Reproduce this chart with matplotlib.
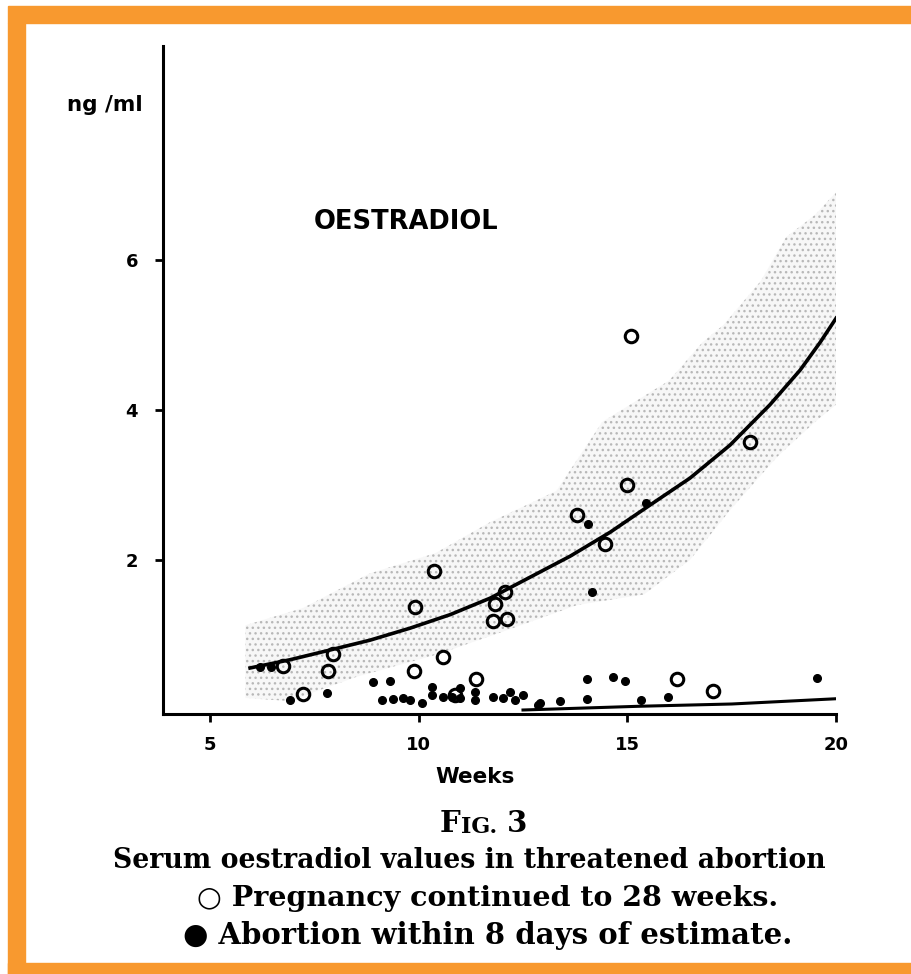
import numpy as np
import matplotlib
matplotlib.use('Agg')
import matplotlib.pyplot as plt
from matplotlib.patches import Rectangle

W, H = 911, 974

# open circles: pregnancy continued to 28 weeks
open_weeks = [6.75, 7.95, 7.83, 7.23, 9.89, 9.91, 10.37, 10.58, 11.37, 10.87,
              11.83, 12.07, 11.78, 12.12, 15.09, 17.94, 14.99, 13.79, 14.47,
              16.19, 17.05]
open_vals  = [0.59, 0.75, 0.52, 0.21, 0.52, 1.37, 1.85, 0.71, 0.41, 0.20,
              1.41, 1.57, 1.19, 1.21, 4.99, 3.57, 3.00, 2.60, 2.21,
              0.41, 0.25]

# filled dots: abortion within 8 days
filled_weeks = [6.20, 6.45, 6.92, 7.80, 14.06, 14.15, 15.45, 19.55,
                8.91, 9.31, 9.12, 9.39, 9.63, 9.79, 10.08, 10.32, 10.32,
                10.58, 10.80, 10.99, 10.99, 11.35, 11.35, 11.78, 12.02,
                12.19, 12.31, 12.50, 12.91, 14.03, 14.66, 14.94, 14.03,
                15.33, 15.98, 13.39, 12.86]
filled_vals  = [0.57, 0.57, 0.13, 0.23, 2.48, 1.57, 2.76, 0.43,
                0.37, 0.39, 0.13, 0.15, 0.16, 0.13, 0.09, 0.31, 0.20,
                0.17, 0.17, 0.16, 0.29, 0.24, 0.13, 0.17, 0.16,
                0.24, 0.13, 0.20, 0.09, 0.41, 0.44, 0.39, 0.15,
                0.13, 0.17, 0.12, 0.07]

# mean curve
curve_weeks = [5.96, 6.92, 7.88, 8.83, 9.79, 10.75, 11.71, 12.67, 13.63,
               14.59, 15.54, 16.50, 17.46, 18.42, 19.14, 19.62, 20.0]
curve_vals  = [0.56, 0.67, 0.80, 0.93, 1.09, 1.27, 1.49, 1.77, 2.05,
               2.37, 2.73, 3.09, 3.53, 4.07, 4.53, 4.90, 5.22]

# lower limit line
low_weeks = [12.5, 15.3, 17.5, 20.0]
low_vals  = [0.0, 0.05, 0.08, 0.15]

# normal range (stippled band)
band_up_weeks = [5.85, 7.23, 8.83, 10.4, 11.7, 13.3, 14.4, 16.0, 16.8, 17.3, 18.2, 18.8, 19.5, 20.0]
band_up_vals  = [1.13, 1.36, 1.82, 2.09, 2.50, 2.92, 3.84, 4.39, 4.90, 5.13, 5.72, 6.30, 6.60, 6.90]
band_lo_weeks = [5.85, 6.9, 8.5, 10.5, 12.2, 13.8, 15.4, 16.5, 17.5, 18.6, 19.5, 20.0]
band_lo_vals  = [0.16, 0.12, 0.44, 0.75, 1.08, 1.40, 1.54, 2.00, 2.69, 3.38, 3.84, 4.07]

x_ticks = [5, 10, 15, 20]
y_ticks = [2, 4, 6]


def px(x, y):
    return x / W, 1 - y / H


fig = plt.figure(figsize=(W / 100, H / 100), dpi=100)
fig.patch.set_facecolor('white')

orange = '#F8992F'
fig.patches.append(Rectangle(px(8, 23), 903 / W, 17 / H, transform=fig.transFigure, color=orange, zorder=0))
fig.patches.append(Rectangle(px(8, 974), 17 / W, 951 / H, transform=fig.transFigure, color=orange, zorder=0))
fig.patches.append(Rectangle(px(8, 974), 903 / W, 11 / H, transform=fig.transFigure, color=orange, zorder=0))

ax = fig.add_axes([163 / W, 1 - 713.75 / H, (836 - 163) / W, (713.75 - 46) / H])
ax.set_xlim(3.874, 20)
ax.set_ylim(-0.05, 8.85)

band_x = np.concatenate([band_up_weeks, band_lo_weeks[::-1]])
band_y = np.concatenate([band_up_vals, band_lo_vals[::-1]])
ax.fill(band_x, band_y, facecolor='#f7f7f7', edgecolor='#b8b8b8', hatch='...', linewidth=0, zorder=1)

ax.plot(curve_weeks, curve_vals, color='black', linewidth=2.6, zorder=3)
ax.plot(low_weeks, low_vals, color='black', linewidth=2.2, zorder=3)
ax.plot(open_weeks, open_vals, 'o', mfc='none', mec='black', ms=9, mew=2.2, zorder=4)
ax.plot(filled_weeks, filled_vals, 'o', color='black', ms=5.5, zorder=4)

for s in ['top', 'right']:
    ax.spines[s].set_visible(False)
for s in ['left', 'bottom']:
    ax.spines[s].set_linewidth(2.2)

ax.set_xticks(x_ticks)
ax.set_yticks(y_ticks)
ax.set_xticklabels([str(t) for t in x_ticks], fontsize=13, fontweight='bold')
ax.set_yticklabels([str(t) for t in y_ticks], fontsize=13, fontweight='bold')
ax.tick_params(axis='x', direction='out', length=6, width=2, pad=10)
ax.tick_params(axis='y', direction='out', length=6, width=2, pad=12)

fig.text(*px(105, 105), 'ng /ml', fontsize=15.5, fontweight='bold', ha='center', va='center')
fig.text(*px(406, 222), 'OESTRADIOL', fontsize=18.5, fontweight='bold', ha='center', va='center')
fig.text(*px(475, 777), 'Weeks', fontsize=15.5, fontweight='bold', ha='center', va='center')

serif = ['DejaVu Serif', 'DejaVu Sans']
t1 = fig.text(*px(440, 838), 'F', fontsize=21, fontweight='bold', family=serif, ha='left', va='bottom')
t2 = ax.annotate('IG.', xy=(1, 0), xycoords=t1, fontsize=16, fontweight='bold', family=serif,
                 ha='left', va='bottom')
ax.annotate(' 3', xy=(1, 0), xycoords=t2, fontsize=21, fontweight='bold', family=serif,
            ha='left', va='bottom')

fig.text(*px(469, 860), 'Serum oestradiol values in threatened abortion', fontsize=19.3,
         fontweight='bold', family=serif, ha='center', va='center')
fig.text(*px(488, 898), '\u25cb Pregnancy continued to 28 weeks.', fontsize=20.5,
         fontweight='bold', family=serif, ha='center', va='center')
fig.text(*px(488, 935), '\u25cf Abortion within 8 days of estimate.', fontsize=21,
         fontweight='bold', family=serif, ha='center', va='center')

plt.savefig('out.png', dpi=100)
plt.close()
